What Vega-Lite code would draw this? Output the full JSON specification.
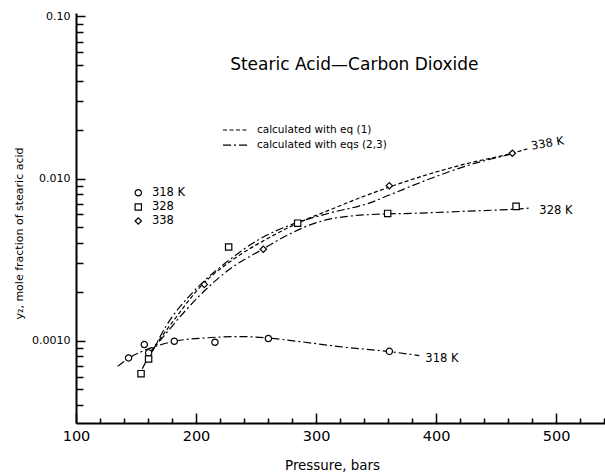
{
  "$schema": "https://vega.github.io/schema/vega-lite/v6.json",
  "width": 529,
  "height": 410,
  "autosize": {"type": "none"},
  "padding": {"left": 76, "top": 13, "right": 0, "bottom": 50},
  "config": {
    "view": {"stroke": null},
    "font": "DejaVu Sans",
    "axis": {"grid": false, "domainColor": "black", "tickColor": "black", "labelColor": "black", "titleColor": "black", "titleFontWeight": "normal", "labelOverlap": false, "labelFlush": false, "labelFont": "DejaVu Sans", "titleFont": "DejaVu Sans"}
  },
  "datasets": {
    "curves": [
      {"c": "338a", "m": "calculated with eq (1)", "P": 162.8, "v": 0.000867},
      {"c": "338a", "m": "calculated with eq (1)", "P": 177.8, "v": 0.001226},
      {"c": "338a", "m": "calculated with eq (1)", "P": 205.5, "v": 0.002222},
      {"c": "338a", "m": "calculated with eq (1)", "P": 233.3, "v": 0.003252},
      {"c": "338a", "m": "calculated with eq (1)", "P": 261.1, "v": 0.004324},
      {"c": "338a", "m": "calculated with eq (1)", "P": 284.7, "v": 0.005303},
      {"c": "338a", "m": "calculated with eq (1)", "P": 311.1, "v": 0.006383},
      {"c": "338a", "m": "calculated with eq (1)", "P": 336.1, "v": 0.007574},
      {"c": "338a", "m": "calculated with eq (1)", "P": 361.1, "v": 0.008859},
      {"c": "338a", "m": "calculated with eq (1)", "P": 394.4, "v": 0.01066},
      {"c": "338a", "m": "calculated with eq (1)", "P": 427.8, "v": 0.01247},
      {"c": "338a", "m": "calculated with eq (1)", "P": 463.6, "v": 0.01432},
      {"c": "338a", "m": "calculated with eq (1)", "P": 476.1, "v": 0.01523},
      {"c": "338b", "m": "calculated with eqs (2,3)", "P": 163.6, "v": 0.000855},
      {"c": "338b", "m": "calculated with eqs (2,3)", "P": 175.0, "v": 0.001226},
      {"c": "338b", "m": "calculated with eqs (2,3)", "P": 194.4, "v": 0.001881},
      {"c": "338b", "m": "calculated with eqs (2,3)", "P": 208.3, "v": 0.002387},
      {"c": "338b", "m": "calculated with eqs (2,3)", "P": 225.0, "v": 0.003028},
      {"c": "338b", "m": "calculated with eqs (2,3)", "P": 252.8, "v": 0.004221},
      {"c": "338b", "m": "calculated with eqs (2,3)", "P": 280.5, "v": 0.005227},
      {"c": "338b", "m": "calculated with eqs (2,3)", "P": 311.1, "v": 0.006115},
      {"c": "338b", "m": "calculated with eqs (2,3)", "P": 344.4, "v": 0.007053},
      {"c": "338b", "m": "calculated with eqs (2,3)", "P": 361.1, "v": 0.007903},
      {"c": "338b", "m": "calculated with eqs (2,3)", "P": 394.4, "v": 0.009929},
      {"c": "338b", "m": "calculated with eqs (2,3)", "P": 427.8, "v": 0.01212},
      {"c": "338b", "m": "calculated with eqs (2,3)", "P": 463.6, "v": 0.01418},
      {"c": "328b", "m": "calculated with eqs (2,3)", "P": 155.3, "v": 0.000671},
      {"c": "328b", "m": "calculated with eqs (2,3)", "P": 161.1, "v": 0.000808},
      {"c": "328b", "m": "calculated with eqs (2,3)", "P": 177.8, "v": 0.00117},
      {"c": "328b", "m": "calculated with eqs (2,3)", "P": 205.5, "v": 0.001974},
      {"c": "328b", "m": "calculated with eqs (2,3)", "P": 227.8, "v": 0.002752},
      {"c": "328b", "m": "calculated with eqs (2,3)", "P": 255.5, "v": 0.00366},
      {"c": "328b", "m": "calculated with eqs (2,3)", "P": 277.8, "v": 0.004532},
      {"c": "328b", "m": "calculated with eqs (2,3)", "P": 294.4, "v": 0.005153},
      {"c": "328b", "m": "calculated with eqs (2,3)", "P": 311.1, "v": 0.005612},
      {"c": "328b", "m": "calculated with eqs (2,3)", "P": 327.8, "v": 0.005858},
      {"c": "328b", "m": "calculated with eqs (2,3)", "P": 344.4, "v": 0.005985},
      {"c": "328b", "m": "calculated with eqs (2,3)", "P": 386.1, "v": 0.006115},
      {"c": "328b", "m": "calculated with eqs (2,3)", "P": 427.8, "v": 0.006292},
      {"c": "328b", "m": "calculated with eqs (2,3)", "P": 466.1, "v": 0.006473},
      {"c": "328b", "m": "calculated with eqs (2,3)", "P": 477.8, "v": 0.006566},
      {"c": "318b", "m": "calculated with eqs (2,3)", "P": 134.7, "v": 0.000693},
      {"c": "318b", "m": "calculated with eqs (2,3)", "P": 144.4, "v": 0.000781},
      {"c": "318b", "m": "calculated with eqs (2,3)", "P": 162.5, "v": 0.000901},
      {"c": "318b", "m": "calculated with eqs (2,3)", "P": 181.9, "v": 0.00099},
      {"c": "318b", "m": "calculated with eqs (2,3)", "P": 208.3, "v": 0.001039},
      {"c": "318b", "m": "calculated with eqs (2,3)", "P": 236.1, "v": 0.001059},
      {"c": "318b", "m": "calculated with eqs (2,3)", "P": 260.3, "v": 0.001036},
      {"c": "318b", "m": "calculated with eqs (2,3)", "P": 286.1, "v": 0.000986},
      {"c": "318b", "m": "calculated with eqs (2,3)", "P": 319.4, "v": 0.000918},
      {"c": "318b", "m": "calculated with eqs (2,3)", "P": 361.1, "v": 0.000855},
      {"c": "318b", "m": "calculated with eqs (2,3)", "P": 386.1, "v": 0.000808}
    ],
    "legendLines": [
      {"c": "L1", "m": "calculated with eq (1)", "P": 222.5, "v": 0.01992},
      {"c": "L1", "m": "calculated with eq (1)", "P": 242.5, "v": 0.01992},
      {"c": "L2", "m": "calculated with eqs (2,3)", "P": 222.5, "v": 0.01609},
      {"c": "L2", "m": "calculated with eqs (2,3)", "P": 242.5, "v": 0.01609}
    ],
    "points": [
      {"T": "318 K", "P": 143.8, "v": 0.000781},
      {"T": "318 K", "P": 156.9, "v": 0.000945},
      {"T": "318 K", "P": 160.5, "v": 0.000839},
      {"T": "318 K", "P": 181.9, "v": 0.00099},
      {"T": "318 K", "P": 215.8, "v": 0.000976},
      {"T": "318 K", "P": 260.3, "v": 0.00103},
      {"T": "318 K", "P": 361.1, "v": 0.000858},
      {"T": "328", "P": 154.2, "v": 0.000625},
      {"T": "328", "P": 160.5, "v": 0.00077},
      {"T": "328", "P": 227.2, "v": 0.00378},
      {"T": "328", "P": 284.7, "v": 0.0053},
      {"T": "328", "P": 359.7, "v": 0.00609},
      {"T": "328", "P": 466.7, "v": 0.00673},
      {"T": "338", "P": 206.9, "v": 0.00222},
      {"T": "338", "P": 256.1, "v": 0.00366},
      {"T": "338", "P": 361.1, "v": 0.00903},
      {"T": "338", "P": 463.6, "v": 0.01432},
      {"T": "318 K", "P": 151.9, "v": 0.00817},
      {"T": "328", "P": 151.9, "v": 0.00667},
      {"T": "338", "P": 151.9, "v": 0.00547}
    ],
    "titles": [
      {"t": "Stearic Acid—Carbon Dioxide", "P": 331.9, "v": 0.0504}
    ],
    "labels": [
      {"t": "328 K", "P": 486.1, "v": 0.00632},
      {"t": "318 K", "P": 391.1, "v": 0.000774},
      {"t": "318 K", "P": 163.3, "v": 0.00817},
      {"t": "328", "P": 163.3, "v": 0.00667},
      {"t": "338", "P": 163.3, "v": 0.00547}
    ],
    "legendText": [
      {"t": "calculated with eq (1)", "P": 250.8, "v": 0.01992},
      {"t": "calculated with eqs (2,3)", "P": 250.8, "v": 0.01609}
    ],
    "labels2": [
      {"t": "338 K", "P": 479.4, "v": 0.01567}
    ]
  },
  "encoding": {
    "x": {
      "field": "P", "type": "quantitative",
      "scale": {"domain": [100, 540.8], "nice": false, "zero": false},
      "axis": {
        "title": "Pressure, bars",
        "values": [100,120,140,160,180,200,220,240,260,280,300,320,340,360,380,400,420,440,460,480,500,520,540],
        "labelExpr": "(datum.value == 100 || datum.value == 200 || datum.value == 300 || datum.value == 400 || datum.value == 500) ? datum.label : ''",
        "labelOverlap": false,
        "tickSize": {"condition": {"test": "datum.value == 100 || datum.value == 200 || datum.value == 300 || datum.value == 400 || datum.value == 500", "value": -10}, "value": -5},
        "labelPadding": 16,
        "labelFontSize": 14.5,
        "domainWidth": 2,
        "tickWidth": 1.5,
        "titleFontSize": 13.4,
        "titleX": 256,
        "titleY": 42,
        "titleBaseline": "middle"
      }
    },
    "y": {
      "field": "v", "type": "quantitative",
      "scale": {"type": "log", "domain": [0.00031, 0.105], "nice": false},
      "axis": {
        "title": "y₂, mole fraction of stearic acid",
        "values": [0.0004,0.0005,0.0006,0.0007,0.0008,0.0009,0.001,0.002,0.003,0.004,0.005,0.006,0.007,0.008,0.009,0.01,0.02,0.03,0.04,0.05,0.06,0.07,0.08,0.09,0.1],
        "labelExpr": "datum.value == 0.1 ? '0.10' : datum.value == 0.01 ? '0.010' : datum.value == 0.001 ? '0.0010' : ''",
        "labelOverlap": false,
        "tickSize": {"condition": {"test": "datum.value == 0.1 || datum.value == 0.01 || datum.value == 0.001", "value": -9}, "value": -7},
        "labelPadding": 15,
        "labelFontSize": 11,
        "domainWidth": 2,
        "tickWidth": 1.5,
        "titleFontSize": 11,
        "titleX": -57,
        "titleY": 220,
        "titleBaseline": "middle"
      }
    }
  },
  "layer": [
    {
      "data": {"name": "curves"},
      "mark": {"type": "line", "interpolate": "monotone", "color": "black", "strokeWidth": 1.2},
      "encoding": {
        "detail": {"field": "c"},
        "strokeDash": {
          "field": "m", "type": "nominal",
          "scale": {"domain": ["calculated with eq (1)", "calculated with eqs (2,3)"], "range": [[4, 2.5], [8, 3, 2, 3]]},
          "legend": null
        }
      }
    },
    {
      "data": {"name": "legendLines"},
      "mark": {"type": "line", "color": "black", "strokeWidth": 1.2},
      "encoding": {
        "detail": {"field": "c"},
        "strokeDash": {"field": "m", "type": "nominal", "legend": null}
      }
    },
    {
      "data": {"name": "points"},
      "mark": {"type": "point", "filled": false, "color": "black", "fill": "white", "strokeWidth": 1.2, "size": 40, "opacity": 1},
      "encoding": {
        "shape": {
          "field": "T", "type": "nominal",
          "scale": {"domain": ["318 K", "328", "338"], "range": ["circle", "square", "diamond"]},
          "legend": null
        }
      }
    },
    {
      "data": {"name": "titles"},
      "mark": {"type": "text", "fontSize": 17, "align": "center", "baseline": "middle", "color": "black"},
      "encoding": {"text": {"field": "t"}}
    },
    {
      "data": {"name": "labels"},
      "mark": {"type": "text", "fontSize": 11.5, "align": "left", "baseline": "middle", "color": "black"},
      "encoding": {"text": {"field": "t"}}
    },
    {
      "data": {"name": "legendText"},
      "mark": {"type": "text", "fontSize": 10.5, "align": "left", "baseline": "middle", "color": "black"},
      "encoding": {"text": {"field": "t"}}
    },
    {
      "data": {"name": "labels2"},
      "mark": {"type": "text", "fontSize": 11.5, "align": "left", "baseline": "middle", "angle": -10, "color": "black"},
      "encoding": {"text": {"field": "t"}}
    }
  ]
}
